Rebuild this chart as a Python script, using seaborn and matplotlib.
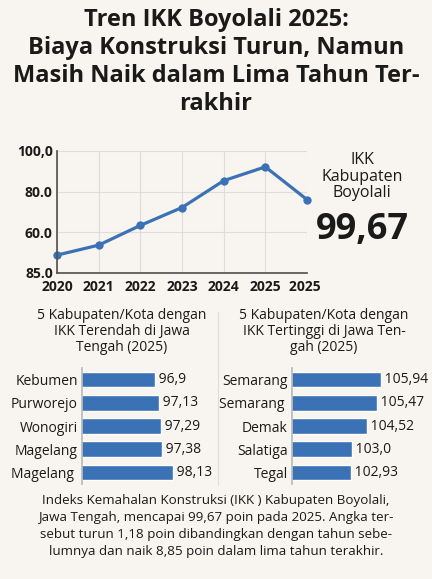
import matplotlib.pyplot as plt
import seaborn as sns
import pandas as pd

years = ['2020', '2021', '2022', '2023', '2024', '2025', '2025 ']
ikk_trend = [48.8, 53.7, 63.4, 72.2, 85.4, 92.2, 76.1]
ytick_vals = [40, 60, 80, 100]
ytick_labels = ['85.0', '60.0', '80.0', '100,0']

low_names = ['Kebumen', 'Purworejo', 'Wonogiri', 'Magelang', 'Magelang ']
low_vals = [96.9, 97.13, 97.29, 97.38, 98.13]
low_labels = ['96,9', '97,13', '97,29', '97,38', '98,13']

high_names = ['Semarang', 'Semarang ', 'Demak', 'Salatiga', 'Tegal']
high_vals = [105.94, 105.47, 104.52, 103.0, 102.93]
high_labels = ['105,94', '105,47', '104,52', '103,0', '102,93']

BG = '#f8f5f0'
BLUE = '#3a72b5'
INK = '#1a1a1a'

sns.set_theme(style='whitegrid')
plt.rcParams['font.family'] = ['Open Sans', 'DejaVu Sans']

fig = plt.figure(figsize=(4.32, 5.79), dpi=100)
fig.patch.set_facecolor(BG)
W, H = 432, 579

def box(l, t, r, b):
    return [l / W, 1 - b / H, (r - l) / W, (b - t) / H]

fig.text(0.5, 1 - 8 / H, 'Tren IKK Boyolali 2025:\nBiaya Konstruksi Turun, Namun\nMasih Naik dalam Lima Tahun Ter-\nrakhir',
         ha='center', va='top', fontsize=17, fontweight='bold', color=INK, linespacing=1.22)

# line chart
ax = fig.add_axes(box(57, 151, 307, 273))
ax.set_facecolor(BG)
df = pd.DataFrame({'year': years, 'ikk': ikk_trend})
sns.lineplot(data=df, x='year', y='ikk', ax=ax, color=BLUE, linewidth=2.3,
             marker='o', markersize=6, markeredgewidth=0, sort=False, clip_on=False)
ax.set_ylim(40, 100)
ax.set_yticks(ytick_vals)
ax.set_yticklabels(ytick_labels)
ax.set_xlim(-0.0, 6.0)
ax.set_xlabel('')
ax.set_ylabel('')
ax.grid(True, color='#dddddd', linewidth=0.8)
for s in ['top', 'right']:
    ax.spines[s].set_visible(False)
for s in ['left', 'bottom']:
    ax.spines[s].set_color('#555555')
ax.tick_params(axis='x', labelsize=10, colors=INK, pad=5, length=0)
ax.tick_params(axis='y', labelsize=10, colors=INK, pad=3, length=0)
for t in ax.get_xticklabels() + ax.get_yticklabels():
    t.set_fontweight('bold')

fig.text(362 / W, 1 - 152 / H, 'IKK\nKabupaten\nBoyolali', ha='center', va='top',
         fontsize=11.5, color=INK, linespacing=1.05)
fig.text(362 / W, 1 - 230 / H, '99,67', ha='center', va='center',
         fontsize=26, fontweight='bold', color=INK)

# bar charts
fig.text(122 / W, 1 - 308 / H, '5 Kabupaten/Kota dengan\nIKK Terendah di Jawa\nTengah (2025)',
         ha='center', va='top', fontsize=10, color=INK, linespacing=1.1)
fig.text(324 / W, 1 - 308 / H, '5 Kabupaten/Kota dengan\nIKK Tertinggi di Jawa Ten-\ngah (2025)',
         ha='center', va='top', fontsize=10, color=INK, linespacing=1.1)
fig.add_artist(plt.Line2D([218 / W, 218 / W], [1 - 312 / H, 1 - 485 / H], color='#dddddd', lw=0.8))

def bars(axb, names, vals, labels, lo, hi):
    d = pd.DataFrame({'name': names, 'val': vals})
    sns.barplot(data=d, x='val', y='name', ax=axb, color=BLUE, width=0.68, saturation=1)
    axb.set_xlim(lo, hi)
    axb.set_facecolor(BG)
    axb.set_xlabel('')
    axb.set_ylabel('')
    axb.set_xticks([])
    axb.grid(False)
    for s in ['top', 'right', 'bottom']:
        axb.spines[s].set_visible(False)
    axb.spines['left'].set_color('#bbbbbb')
    axb.tick_params(axis='y', labelsize=10, colors=INK, length=0, pad=3)
    for i, (v, lab) in enumerate(zip(vals, labels)):
        axb.text(v, i, ' ' + lab, va='center', ha='left', fontsize=10, color=INK)

ax_l = fig.add_axes(box(82, 368, 176, 484))
bars(ax_l, low_names, low_vals, low_labels, 92, 98.3)
ax_r = fig.add_axes(box(292, 368, 382, 484))
bars(ax_r, high_names, high_vals, high_labels, 97, 106)

fig.text(0.5, 1 - 494 / H,
         'Indeks Kemahalan Konstruksi (IKK ) Kabupaten Boyolali,\nJawa Tengah, mencapai 99,67 poin pada 2025. Angka ter-\nsebut turun 1,18 poin dibandingkan dengan tahun sebe-\nlumnya dan naik 8,85 poin dalam lima tahun terakhir.',
         ha='center', va='top', fontsize=9.6, color=INK, linespacing=1.4)

fig.savefig('out.png', dpi=100, facecolor=BG)
